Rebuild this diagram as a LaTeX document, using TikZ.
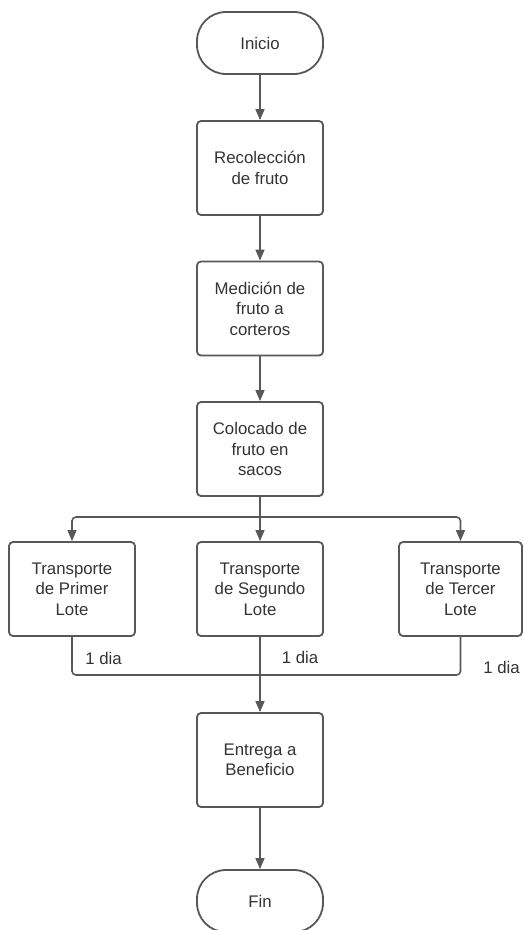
\documentclass[tikz,border=0pt]{standalone}
\usepackage{fontspec}
\setmainfont{Liberation Sans}
\usetikzlibrary{arrows.meta}
\definecolor{linegray}{HTML}{585858}
\definecolor{textgray}{HTML}{333333}
\begin{document}
\begin{tikzpicture}[x=1pt,y=-1pt,
  every node/.style={font=\fontsize{16.8}{20.5}\selectfont, text=textgray},
  procbox/.style={draw=linegray, line width=1.8pt, rounded corners=4pt,
    minimum width=126pt, minimum height=94pt, align=center, inner sep=2pt},
  termbox/.style={draw=linegray, line width=1.8pt, rounded corners=29pt,
    minimum width=126pt, minimum height=62pt, align=center},
  flow/.style={draw=linegray, line width=1.6pt,
    -{Triangle[length=11pt,width=9pt]}},
  wire/.style={draw=linegray, line width=1.6pt, rounded corners=4pt},
  lbl/.style={inner sep=0pt}
]
\useasboundingbox (0,0) rectangle (523,930);

% main column
\node[termbox] (inicio) at (260,43) {Inicio};
\node[procbox] (recol) at (260,168) {Recolección\\de fruto};
\node[procbox] (medic) at (260,308.5) {Medición de\\fruto a\\corteros};
\node[procbox] (coloc) at (260,449) {Colocado de\\fruto en\\sacos};

% transport boxes
\node[procbox] (t1) at (72,589) {Transporte\\de Primer\\Lote};
\node[procbox] (t2) at (260,589) {Transporte\\de Segundo\\Lote};
\node[procbox, minimum width=123pt] (t3) at (460.5,589) {Transporte\\de Tercer\\Lote};

\node[procbox] (entrega) at (260,760) {Entrega a\\Beneficio};
\node[termbox] (fin) at (260,901) {Fin};

\coordinate (split) at (260,517);
\coordinate (join) at (260,675);

% connectors
\draw[flow] (inicio) -- (recol);
\draw[flow] (recol) -- (medic);
\draw[flow] (medic) -- (coloc);

\draw[wire] (coloc.south) -- (split);
\draw[flow, rounded corners=4pt] (split) -| (t1.north);
\draw[flow] (split) -- (t2.north);
\draw[flow, rounded corners=4pt] (split) -| (t3.north);

\draw[wire] (t1.south) |- (join);
\draw[wire] (t3.south) |- (join);
\draw[wire] (t2.south) -- (join);
\draw[flow] (join) -- (entrega.north);
\draw[flow] (entrega) -- (fin);

% durations
\node[lbl] (d1) at (103.5,658) {1 dia};
\node[lbl] (d2) at (300,657) {1 dia};
\node[lbl] (d3) at (501.5,667) {1 dia};
\end{tikzpicture}
\end{document}
